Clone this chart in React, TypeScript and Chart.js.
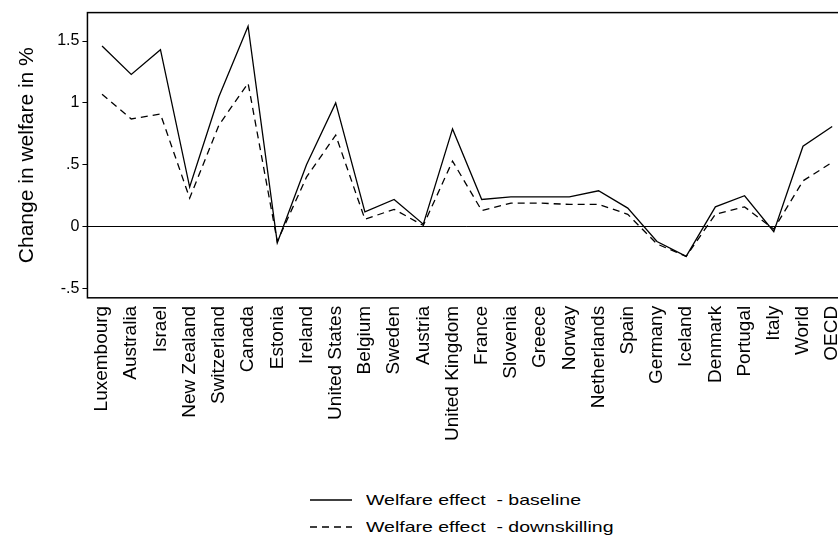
import React, { useEffect, useRef } from "react";
import { Chart, registerables } from "chart.js";

Chart.register(...registerables);

const countries = [
  "Luxembourg", "Australia", "Israel", "New Zealand", "Switzerland", "Canada",
  "Estonia", "Ireland", "United States", "Belgium", "Sweden", "Austria",
  "United Kingdom", "France", "Slovenia", "Greece", "Norway", "Netherlands",
  "Spain", "Germany", "Iceland", "Denmark", "Portugal", "Italy", "World", "OECD",
];
const baseline = [
  1.46, 1.23, 1.43, 0.32, 1.05, 1.62, -0.13, 0.5, 1.0, 0.12, 0.22, 0.02,
  0.79, 0.22, 0.24, 0.24, 0.24, 0.29, 0.15, -0.12, -0.24, 0.16, 0.25, -0.04, 0.65, 0.81,
];
const downskilling = [
  1.07, 0.87, 0.91, 0.23, 0.82, 1.16, -0.12, 0.4, 0.74, 0.06, 0.14, 0.01,
  0.53, 0.13, 0.19, 0.19, 0.18, 0.18, 0.1, -0.14, -0.24, 0.1, 0.16, -0.02, 0.37, 0.52,
];
const yTicks = [-0.5, 0, 0.5, 1, 1.5];

const fmt = (v: number) => {
  if (v === 0) return "0";
  const s = String(v);
  return s.replace(/^0\./, ".").replace(/^-0\./, "-.");
};

const boxPlugin = {
  id: "box",
  afterDraw(chart: any) {
    const { ctx, chartArea: a } = chart;
    ctx.save();
    ctx.strokeStyle = "#000";
    ctx.lineWidth = 1.5;
    ctx.strokeRect(a.left, a.top, a.right - a.left, a.bottom - a.top);
    ctx.restore();
  },
};

export default function App() {
  const ref = useRef<HTMLCanvasElement>(null);

  useEffect(() => {
    if (!ref.current) return;
    const chart = new Chart(ref.current, {
      type: "line",
      data: {
        labels: countries,
        datasets: [
          { label: "Welfare effect - baseline", data: baseline, borderColor: "#000", borderWidth: 1.3, pointRadius: 0, tension: 0 },
          { label: "Welfare effect - downskilling", data: downskilling, borderColor: "#000", borderWidth: 1.3, borderDash: [7, 5], pointRadius: 0, tension: 0 },
        ],
      },
      options: {
        animation: false,
        responsive: false,
        layout: { padding: { top: 4, left: 15, right: 0, bottom: 0 } },
        plugins: { legend: { display: false }, tooltip: { enabled: false } },
        scales: {
          x: {
            offset: true,
            grid: { display: false, drawTicks: true, tickLength: 5, tickColor: "#000" },
            border: { display: false },
            ticks: {
              autoSkip: false,
              maxRotation: 90,
              minRotation: 90,
              color: "#000",
              font: { family: "Liberation Sans, Arial", size: 19 },
            },
          },
          y: {
            min: -0.575,
            max: 1.73,
            afterBuildTicks: (s: any) => {
              s.ticks = yTicks.map((v) => ({ value: v }));
            },
            grid: {
              color: (c: any) => (c.tick && c.tick.value === 0 ? "#000" : "rgba(0,0,0,0)"),
              tickColor: "#000",
              tickLength: 5,
              lineWidth: 1,
            },
            border: { display: false },
            ticks: {
              color: "#000",
              font: { family: "Liberation Sans, Arial", size: 16 },
              callback: (v: any) => fmt(Number(v)),
            },
            title: {
              display: true,
              text: "Change in welfare in %",
              color: "#000",
              font: { family: "Liberation Sans, Arial", size: 21 },
              padding: { top: 0, bottom: 14 },
            },
          },
        },
      },
      plugins: [boxPlugin],
    });
    return () => chart.destroy();
  }, []);

  const legendItem = (dash: string | undefined, text: string) => (
    <div style={{ display: "flex", alignItems: "center", height: 27 }}>
      <svg width="42" height="10" style={{ marginRight: 14 }}>
        <line x1="0" y1="5" x2="42" y2="5" stroke="#000" strokeWidth="1.3" strokeDasharray={dash} />
      </svg>
      <span style={{ display: "inline-block", transform: "scaleX(1.3)", transformOrigin: "left center", whiteSpace: "pre" }}>{text}</span>
    </div>
  );

  return (
    <div style={{ position: "absolute", left: 0, top: 0, width: 838, height: 542, overflow: "hidden", background: "#fff", fontFamily: "Liberation Sans, Arial", fontSize: 15 }}>
      <canvas ref={ref} width={858} height={444} style={{ display: "block" }} />
      <div style={{ position: "absolute", left: 310, top: 486 }}>
        {legendItem(undefined, "Welfare effect  - baseline")}
        {legendItem("7 5", "Welfare effect  - downskilling")}
      </div>
    </div>
  );
}
